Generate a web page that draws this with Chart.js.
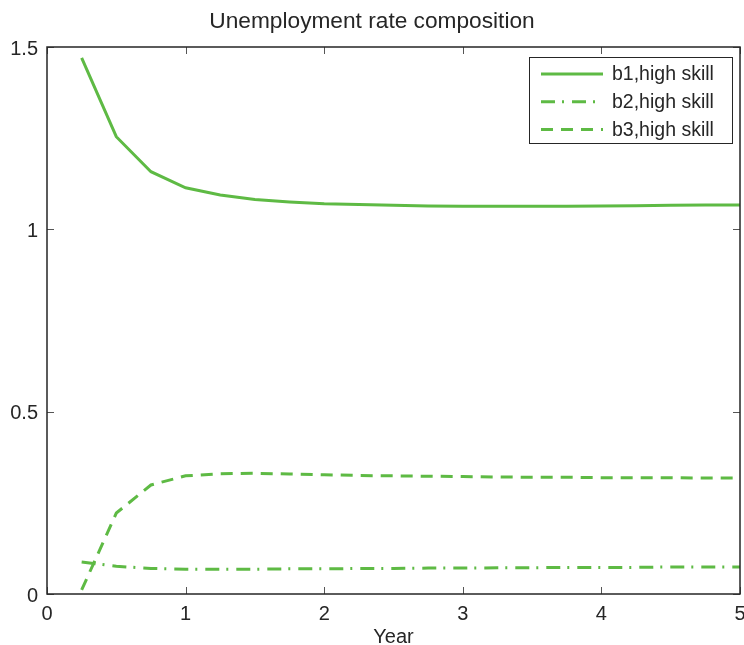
<!DOCTYPE html>
<html>
<head>
<meta charset="utf-8">
<script src="https://cdn.jsdelivr.net/npm/chart.js@4.4.1/dist/chart.umd.min.js"></script>
<style>
  html, body { margin: 0; padding: 0; background: #fff; }
  #wrap { width: 744px; height: 645px; }
</style>
</head>
<body>
<div id="wrap"><canvas id="c" width="744" height="645"></canvas></div>
<script>
// Quarterly time grid (years)
const years = [0.25, 0.5, 0.75, 1, 1.25, 1.5, 1.75, 2, 2.25, 2.5, 2.75, 3, 3.25, 3.5, 3.75, 4, 4.25, 4.5, 4.75, 5];

// Unemployment rate components
const b1High = [1.470, 1.254, 1.158, 1.114, 1.094, 1.082, 1.075, 1.070, 1.068, 1.066, 1.064, 1.063, 1.063, 1.063, 1.063, 1.064, 1.065, 1.066, 1.067, 1.067];
const b2High = [0.088, 0.076, 0.070, 0.068, 0.068, 0.068, 0.069, 0.069, 0.070, 0.070, 0.071, 0.071, 0.072, 0.072, 0.073, 0.073, 0.073, 0.074, 0.074, 0.074];
const b3High = [0.011, 0.222, 0.299, 0.324, 0.330, 0.331, 0.329, 0.327, 0.325, 0.324, 0.323, 0.322, 0.321, 0.320, 0.320, 0.319, 0.319, 0.319, 0.318, 0.318];

const seriesLabels = ['b1,high skill', 'b2,high skill', 'b3,high skill'];
const xTicks = [0, 1, 2, 3, 4, 5];
const yTicks = [0, 0.5, 1, 1.5];

const GREEN = 'rgb(94,186,68)';
const AXIS = '#262626';
const FONT = '"Liberation Sans", Arial, sans-serif';
const dashes = [[], [14, 7, 2, 8], [12, 8]];

const toPoints = vals => vals.map((v, i) => ({ x: years[i], y: v }));

// Box around plot area with inward tick marks on all sides
const boxPlugin = {
  id: 'matlabBox',
  afterDatasetsDraw(chart) {
    const { ctx, chartArea: a, scales: { x, y } } = chart;
    ctx.save();
    ctx.strokeStyle = '#555';
    ctx.lineWidth = 1;
    const tl = 7;
    xTicks.forEach(t => {
      const px = Math.round(x.getPixelForValue(t)) + 0.5;
      ctx.beginPath();
      ctx.moveTo(px, a.bottom); ctx.lineTo(px, a.bottom - tl);
      ctx.moveTo(px, a.top); ctx.lineTo(px, a.top + tl);
      ctx.stroke();
    });
    yTicks.forEach(t => {
      const py = Math.round(y.getPixelForValue(t)) + 0.5;
      ctx.beginPath();
      ctx.moveTo(a.left, py); ctx.lineTo(a.left + tl, py);
      ctx.moveTo(a.right, py); ctx.lineTo(a.right - tl, py);
      ctx.stroke();
    });
    ctx.strokeStyle = AXIS;
    ctx.lineWidth = 1.5;
    ctx.strokeRect(a.left, a.top, a.right - a.left, a.bottom - a.top);
    ctx.restore();
  }
};

// Legend box in the upper-right corner with line-style samples
const legendPlugin = {
  id: 'boxLegend',
  afterDraw(chart) {
    const { ctx, chartArea: a } = chart;
    const w = 203, h = 86;
    const bx = a.right - 8 - w, by = a.top + 10;
    ctx.save();
    ctx.fillStyle = '#fff';
    ctx.fillRect(bx, by, w, h);
    ctx.strokeStyle = AXIS;
    ctx.lineWidth = 1;
    ctx.strokeRect(bx + 0.5, by + 0.5, w, h);
    ctx.font = '19.5px ' + FONT;
    ctx.textBaseline = 'middle';
    chart.data.datasets.forEach((ds, i) => {
      const ry = by + 17 + i * 27.7;
      ctx.strokeStyle = ds.borderColor;
      ctx.lineWidth = ds.borderWidth;
      ctx.setLineDash(ds.borderDash || []);
      ctx.beginPath();
      ctx.moveTo(bx + 12, ry); ctx.lineTo(bx + 74, ry);
      ctx.stroke();
      ctx.setLineDash([]);
      ctx.fillStyle = AXIS;
      ctx.fillText(ds.label, bx + 83, ry + 1);
    });
    ctx.restore();
  }
};

new Chart(document.getElementById('c'), {
  type: 'line',
  data: {
    datasets: [b1High, b2High, b3High].map((vals, i) => ({
      label: seriesLabels[i],
      data: toPoints(vals),
      borderColor: GREEN,
      borderWidth: 3,
      borderDash: dashes[i],
      pointRadius: 0,
      tension: 0,
      fill: false
    }))
  },
  options: {
    responsive: false,
    animation: false,
    layout: { padding: { left: 4, right: 4, top: 0, bottom: 0 } },
    plugins: {
      legend: { display: false },
      tooltip: { enabled: false },
      title: {
        display: true,
        text: 'Unemployment rate composition',
        color: AXIS,
        font: { family: FONT, size: 22.7, weight: 'normal', lineHeight: 1.2 },
        padding: { top: 8.4, bottom: 11.36 }
      }
    },
    scales: {
      x: {
        type: 'linear',
        min: 0, max: 5,
        afterBuildTicks: s => { s.ticks = xTicks.map(v => ({ value: v })); },
        ticks: {
          color: AXIS,
          font: { family: FONT, size: 20, lineHeight: 1.2 },
          padding: 8.5,
          maxRotation: 0,
          callback: v => String(v)
        },
        grid: { display: false, drawTicks: false },
        border: { display: false },
        title: {
          display: true,
          text: 'Year',
          color: AXIS,
          font: { family: FONT, size: 20, lineHeight: 1.0 },
          padding: { top: 0, bottom: -2 }
        },
        afterFit: s => { s.height = 51; s.paddingLeft = 0; s.paddingRight = 0; }
      },
      y: {
        min: 0, max: 1.5,
        afterBuildTicks: s => { s.ticks = yTicks.map(v => ({ value: v })); },
        ticks: {
          color: AXIS,
          font: { family: FONT, size: 20, lineHeight: 1.2 },
          padding: 9,
          labelOffset: 2,
          callback: v => String(v)
        },
        grid: { display: false, drawTicks: false },
        border: { display: false },
        afterFit: s => { s.width = 43; s.paddingTop = 0; s.paddingBottom = 0; }
      }
    }
  },
  plugins: [boxPlugin, legendPlugin]
});
</script>
</body>
</html>
